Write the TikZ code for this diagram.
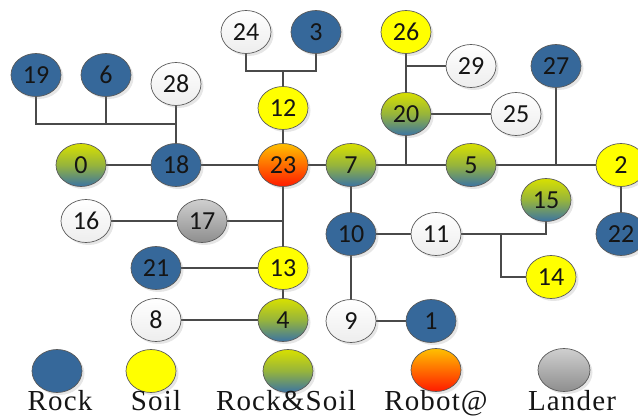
\documentclass[tikz,border=0pt]{standalone}
\usepackage{fontspec}
\newfontfamily\numfont{Carlito}
\newfontfamily\labfont[LetterSpace=4]{Liberation Serif}
\usetikzlibrary{shapes.geometric,shadows}
\definecolor{rockc}{HTML}{36689A}
\definecolor{soilc}{HTML}{FFFF00}
\definecolor{rsTop}{HTML}{D8E000}
\definecolor{rsMid}{HTML}{96B43C}
\definecolor{rsBot}{HTML}{3A74A4}
\definecolor{robTop}{HTML}{FFC000}
\definecolor{robBot}{HTML}{FF1A00}
\definecolor{lanTop}{HTML}{CFCFCF}
\definecolor{lanBot}{HTML}{8E8E8E}
\definecolor{ndline}{HTML}{5A5A5A}
\definecolor{lnc}{HTML}{4A4A4A}
\definecolor{txt}{HTML}{151515}
\pgfdeclarelayer{bg}
\pgfsetlayers{bg,main}
\tikzset{
  nd/.style={ellipse, minimum width=50pt, minimum height=43pt, inner sep=0pt,
    draw=ndline, line width=0.7pt, text=txt, font=\numfont\fontsize{26}{26}\selectfont,
    drop shadow={opacity=0.2, shadow xshift=2.5pt, shadow yshift=-2.5pt}},
  rock/.style={nd, fill=rockc},
  soil/.style={nd, fill=soilc},
  wht/.style={nd, top color=white, bottom color=black!7},
  rs/.style={nd, top color=rsTop, bottom color=rsBot, middle color=rsMid},
  rob/.style={nd, top color=robTop, bottom color=robBot},
  lan/.style={nd, top color=lanTop, bottom color=lanBot},
  ln/.style={draw=lnc, line width=2.2pt},
  lab/.style={anchor=base, font=\labfont\fontsize{29}{29}\selectfont, text=txt, inner sep=0pt}
}
\begin{document}
\begin{tikzpicture}[x=1pt,y=-1pt]
\useasboundingbox (0,0) rectangle (638,419);
% nodes
\node[rock] (n19) at (36,75) {19};
\node[rock] (n6) at (106,75) {6};
\node[wht] (n28) at (176,84) {28};
\node[wht] (n24) at (246,32) {24};
\node[rock] (n3) at (316,32) {3};
\node[soil] (n12) at (283,108) {12};
\node[soil] (n26) at (406,32) {26};
\node[wht] (n29) at (471,66) {29};
\node[rock] (n27) at (556,66) {27};
\node[rs] (n20) at (406,114) {20};
\node[wht] (n25) at (516,114) {25};
\node[rs] (n0) at (81,165) {0};
\node[rock] (n18) at (176,165) {18};
\node[rob] (n23) at (283,165) {23};
\node[rs] (n7) at (351,165) {7};
\node[rs] (n5) at (471,165) {5};
\node[soil] (n2) at (621,165) {2};
\node[rs] (n15) at (546,200) {15};
\node[wht] (n16) at (86,221) {16};
\node[lan] (n17) at (202,221) {17};
\node[rock] (n10) at (351,234) {10};
\node[wht] (n11) at (436,234) {11};
\node[rock] (n22) at (621,234) {22};
\node[rock] (n21) at (156,268) {21};
\node[soil] (n13) at (283,268) {13};
\node[soil] (n14) at (551,277) {14};
\node[wht] (n8) at (156,320) {8};
\node[rs] (n4) at (283,320) {4};
\node[wht] (n9) at (351,321) {9};
\node[rock] (n1) at (431,321) {1};
% legend
\node[rock] (l1) at (57,371) {};
\node[soil] (l2) at (151,371) {};
\node[rs] (l3) at (288,371) {};
\node[rob] (l4) at (436,370) {};
\node[lan, minimum width=52pt] (l5) at (564,370) {};
\node[lab] (t1) at (60,411) {Rock};
\node[lab] (t2) at (156,411) {Soil};
\node[lab] (t3) at (286,411) {Rock\&Soil};
\node[lab] (t4) at (436,411) {Robot@};
\node[lab] (t5) at (572,411) {Lander};
% connectors
\coordinate (jb) at (176,124);
\coordinate (j12) at (283,71);
\coordinate (j11) at (501,234);
\begin{pgfonlayer}{bg}
\draw[ln] (n19.center) |- (jb);
\draw[ln] (n6.center) -- (n6.center |- jb);
\draw[ln] (n28.center) -- (n18.center);
\draw[ln] (n24.center) |- (j12) -| (n3.center);
\draw[ln] (j12) -- (n12.center) -- (n23.center);
\draw[ln] (n0.center) -- (n2.center);
\draw[ln] (n26.center) -- (n20.center) -- (n20.center |- n7.center);
\draw[ln] (n29.center) -- (n29.center -| n20.center);
\draw[ln] (n20.center) -- (n25.center);
\draw[ln] (n27.center) -- (n27.center |- n5.center);
\draw[ln] (n2.center) -- (n22.center);
\draw[ln] (n23.center) -- (n13.center) -- (n4.center);
\draw[ln] (n16.center) -- (n17.center) -- (n17.center -| n23.center);
\draw[ln] (n21.center) -- (n13.center);
\draw[ln] (n8.center) -- (n4.center);
\draw[ln] (n7.center) -- (n10.center) -- (n9.center) -- (n1.center);
\draw[ln] (n10.center) -- (n11.center) -| (n15.center);
\draw[ln] (j11) |- (n14.center);
\end{pgfonlayer}
\end{tikzpicture}
\end{document}
